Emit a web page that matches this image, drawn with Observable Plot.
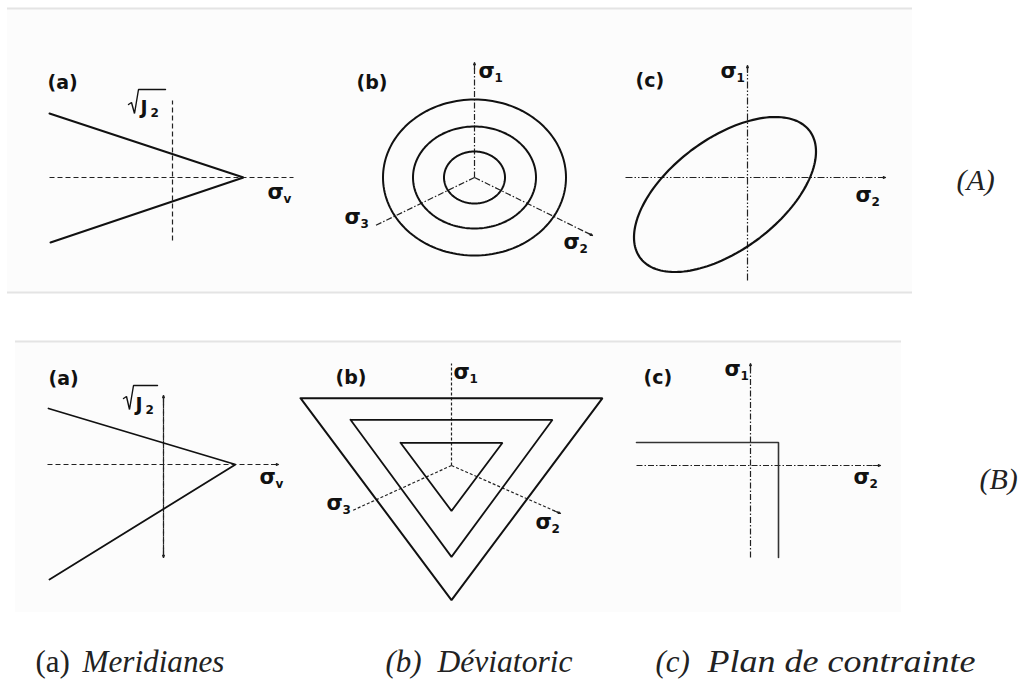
<!DOCTYPE html>
<html>
<head>
<meta charset="utf-8">
<script src="https://cdn.jsdelivr.net/npm/d3@7"></script>
<script src="https://cdn.jsdelivr.net/npm/@observablehq/plot@0.6"></script>
<style>
  body { margin: 0; background: #fff; }
  svg { display: block; }
</style>
</head>
<body>
<div id="chart"></div>
<script>
// Yield criteria sketched in three views: (a) meridian plane, (b) deviatoric plane,
// (c) plane-stress plane. Row A: smooth criterion, row B: Tresca/Rankine-like criterion.
// Every panel is described in its own local frame (u to the right, v upward,
// origin at the intersection of its axes).

// ---- data -----------------------------------------------------------------
// Meridian traces (u, v), traced from the left end to the apex and back out
const meridianA = [[-123, 64], [71, 0], [-122, -65]];
const meridianB = [[-115, 56], [72, 0], [-114, -115]];

// Deviatoric sections of the smooth criterion: semi-axes of the three traces
const circleRx = [30.5, 61.5, 91.5];
const circleRy = [26, 51, 78];

// Deviatoric sections of the faceted criterion: half top-edge width and height of top edge
const triHalfWidth = [51, 101, 151];
const triTop = [22.7, 45.7, 67.3];

// Plane-stress trace of the smooth criterion (centre, semi-extents, coupling term)
const ellipse = {cu: -22.5, cv: -17, ru: 91, rv: 77.5, cuv: 3900};

// Plane-stress trace of the faceted criterion
const planeB = [[-114, 23], [28, 23], [28, -92]];

// Axes of each panel: panel, start (u1, v1), end (u2, v2), dash style, arrowhead
const axes = [
  {p: "Aa", u1: -123, v1: 0, u2: 121, v2: 0, dash: "dash", arrow: false},
  {p: "Aa", u1: 0, v1: -63, u2: 0, v2: 77, dash: "dash", arrow: false},
  {p: "Ab", u1: 0, v1: 0, u2: 0, v2: 115, dash: "dashdot", arrow: true},
  {p: "Ab", u1: 0, v1: 0, u2: -99, v2: -48, dash: "dashdot", arrow: false},
  {p: "Ab", u1: 0, v1: 0, u2: 118, v2: -58, dash: "dashdot", arrow: true},
  {p: "Ac", u1: -122, v1: 0, u2: 138, v2: 0, dash: "dashdotdot", arrow: true},
  {p: "Ac", u1: 0, v1: -103, u2: 0, v2: 112, dash: "dashdotdot", arrow: true},
  {p: "Ba", u1: -116, v1: 0, u2: 115, v2: 0, dash: "dash", arrow: true},
  {p: "Ba", u1: 0, v1: -93, u2: 0, v2: 69, dash: "dash", arrow: true},
  {p: "Ba", u1: 0, v1: 69, u2: 0, v2: -93, dash: "dash", arrow: true},
  {p: "Bb", u1: 0, v1: 0, u2: 0, v2: 102, dash: "dot", arrow: false},
  {p: "Bb", u1: 0, v1: 0, u2: -99, v2: -45, dash: "dot", arrow: false},
  {p: "Bb", u1: 0, v1: 0, u2: 109, v2: -48, dash: "dot", arrow: true},
  {p: "Bc", u1: -114, v1: 0, u2: 130, v2: 0, dash: "dashdot", arrow: true},
  {p: "Bc", u1: 0, v1: -92, u2: 0, v2: 102, dash: "dashdot", arrow: true}
];

// Stress-axis labels: panel, subscript, position of the sigma
const sigmaLabels = [
  {p: "Aa", sub: "v", u: 95, v: -21},
  {p: "Ab", sub: "1", u: 4, v: 100},
  {p: "Ab", sub: "3", u: -130, v: -46},
  {p: "Ab", sub: "2", u: 89, v: -71},
  {p: "Ac", sub: "1", u: -27, v: 100},
  {p: "Ac", sub: "2", u: 108, v: -24},
  {p: "Ba", sub: "v", u: 96, v: -19},
  {p: "Bb", sub: "1", u: 2, v: 87},
  {p: "Bb", sub: "3", u: -125, v: -44},
  {p: "Bb", sub: "2", u: 84, v: -63},
  {p: "Bc", sub: "1", u: -26, v: 90},
  {p: "Bc", sub: "2", u: 103, v: -18}
];

// sqrt(J2) labels: radical stroke, "J" and subscript positions
const rootLabels = [
  {p: "Aa", radical: [[-44, 73], [-41, 75], [-38, 64], [-34, 88], [-7, 88]], ju: -32, jv: 64},
  {p: "Ba", radical: [[-40, 66], [-37, 68], [-34, 55], [-30, 79], [-6, 79]], ju: -28, jv: 54}
];

// Panel letters
const panelLetters = [
  {p: "Aa", text: "(a)", u: -125, v: 89},
  {p: "Ab", text: "(b)", u: -118, v: 89},
  {p: "Ac", text: "(c)", u: -112, v: 91},
  {p: "Ba", text: "(a)", u: -115, v: 80},
  {p: "Bb", text: "(b)", u: -116, v: 82},
  {p: "Bc", text: "(c)", u: -107, v: 82}
];

const rowTags = ["(A)", "(B)"];
const captionKeys = ["(a)", "(b)", "(c)"];
const captionNames = ["Meridianes", "Déviatoric", "Plan de contrainte"];

// ---- layout ----------------------------------------------------------------
const W = 1019, H = 682;
const origins = {Aa: [172, 177], Ab: [474, 177], Ac: [747, 177], Ba: [163, 464], Bb: [451, 465], Bc: [750, 465]};
const X = (p, u) => origins[p][0] + u;
const Y = (p, v) => origins[p][1] - v;
const rowTagPos = [[956, 189], [979, 488]];
const captionPos = [[35, 82], [385, 437], [655, 707]];
const captionWidths = [142, 135, 268];
const captionBaseline = 671;
const bands = [{x1: 7, x2: 912, y1: 8, y2: 292, top: true, bottom: true}, {x1: 15, x2: 901, y1: 341, y2: 612, top: true, bottom: false}];
const dashes = {dash: "5,3", dot: "3,2", dashdot: "6,2,1.5,2", dashdotdot: "7,2,1.5,2,1.5,2"};

// ---- build drawable tables --------------------------------------------------
const solid = [];
function addPath(id, p, pts, width, color) {
  pts.forEach(([u, v]) => solid.push({id, x: X(p, u), y: Y(p, v), width, color}));
}
addPath("meridianA", "Aa", meridianA, 2, "#111");
addPath("meridianB", "Ba", meridianB, 1.8, "#111");
const N = 160;
circleRx.forEach((rx, k) => {
  const pts = d3.range(N + 1).map((i) => {
    const t = (2 * Math.PI * i) / N;
    return [rx * Math.cos(t), circleRy[k] * Math.sin(t)];
  });
  addPath("circle" + k, "Ab", pts, 2, "#111");
});
{
  const {cu, cv, ru, rv, cuv} = ellipse;
  const a = cuv / ru, b = Math.sqrt(rv * rv - a * a);
  const pts = d3.range(N + 1).map((i) => {
    const t = (2 * Math.PI * i) / N;
    return [cu + ru * Math.cos(t), cv + a * Math.cos(t) + b * Math.sin(t)];
  });
  addPath("ellipse", "Ac", pts, 2.2, "#111");
}
triHalfWidth.forEach((hw, k) => {
  const top = triTop[k];
  addPath("tri" + k, "Bb", [[-hw, top], [hw, top], [0, -2 * top], [-hw, top]], k === 2 ? 2 : 1.8, "#111");
});
addPath("planeB", "Bc", planeB, 1.6, "#333");
rootLabels.forEach((r, k) => addPath("root" + k, r.p, r.radical, 1.4, "#111"));

const axisRows = axes.map((a) => ({
  x1: X(a.p, a.u1), y1: Y(a.p, a.v1), x2: X(a.p, a.u2), y2: Y(a.p, a.v2), dash: a.dash
}));
const arrowRows = axes.filter((a) => a.arrow).map((a) => {
  const du = a.u2 - a.u1, dv = a.v2 - a.v1, L = Math.hypot(du, dv);
  return {x1: X(a.p, a.u2 - (7 * du) / L), y1: Y(a.p, a.v2 - (7 * dv) / L), x2: X(a.p, a.u2), y2: Y(a.p, a.v2)};
});

const sigmaRows = sigmaLabels.map((s) => ({x: X(s.p, s.u), y: Y(s.p, s.v), sub: s.sub}));
const letterRows = panelLetters.map((l) => ({x: X(l.p, l.u), y: Y(l.p, l.v), text: l.text}));
const jRows = rootLabels.map((r) => ({x: X(r.p, r.ju), y: Y(r.p, r.jv)}));
const tagRows = rowTags.map((t, i) => ({x: rowTagPos[i][0], y: rowTagPos[i][1], text: t}));
const keyRows = captionKeys.map((t, i) => ({x: captionPos[i][0], y: captionBaseline, text: t, italic: i > 0}));
const nameRows = captionNames.map((t, i) => ({x: captionPos[i][1], y: captionBaseline, text: t}));

const bandLines = [];
bands.forEach((b) => {
  if (b.top) bandLines.push({x1: b.x1, x2: b.x2, y: b.y1});
  if (b.bottom) bandLines.push({x1: b.x1, x2: b.x2, y: b.y2});
});

const sans = "DejaVu Sans, Liberation Sans, sans-serif";
const serif = "Liberation Serif, DejaVu Serif, serif";
const axisMarks = Object.keys(dashes).map((k) =>
  Plot.link(axisRows.filter((d) => d.dash === k), {
    x1: "x1", y1: "y1", x2: "x2", y2: "y2", stroke: "#222", strokeWidth: 1.2, strokeDasharray: dashes[k]
  })
);

const chart = Plot.plot({
  width: W,
  height: H,
  margin: 0,
  x: {type: "linear", domain: [0, W], range: [0, W], axis: null},
  y: {type: "linear", domain: [0, H], range: [0, H], axis: null},
  style: {background: "#fff"},
  marks: [
    Plot.rect(bands, {x1: "x1", x2: "x2", y1: "y1", y2: "y2", fill: "#fcfcfc"}),
    Plot.ruleY(bandLines, {x1: "x1", x2: "x2", y: "y", stroke: "#e4e4e4", strokeWidth: 2}),
    ...axisMarks,
    Plot.arrow(arrowRows, {x1: "x1", y1: "y1", x2: "x2", y2: "y2", stroke: "#222", strokeWidth: 1.2, headLength: 6, headAngle: 45}),
    Plot.line(solid, {x: "x", y: "y", z: "id", stroke: "color", strokeWidth: "width", curve: "linear", strokeLinejoin: "miter"}),
    Plot.text(sigmaRows, {x: "x", y: "y", text: () => "σ", textAnchor: "start", lineAnchor: "bottom", fontFamily: sans, fontWeight: "bold", fontSize: 21, fill: "#111"}),
    Plot.text(sigmaRows, {x: "x", y: "y", text: "sub", textAnchor: "start", lineAnchor: "bottom", dx: 16, dy: 4, fontFamily: sans, fontWeight: "bold", fontSize: 12, fill: "#111"}),
    Plot.text(jRows, {x: "x", y: "y", text: () => "J", textAnchor: "start", lineAnchor: "bottom", fontFamily: sans, fontWeight: "bold", fontSize: 19, fill: "#111"}),
    Plot.text(jRows, {x: "x", y: "y", text: () => "2", textAnchor: "start", lineAnchor: "bottom", dx: 10, dy: 3, fontFamily: sans, fontWeight: "bold", fontSize: 12, fill: "#111"}),
    Plot.text(letterRows, {x: "x", y: "y", text: "text", textAnchor: "start", lineAnchor: "bottom", fontFamily: sans, fontWeight: "bold", fontSize: 19, fill: "#111"}),
    Plot.text(tagRows, {x: "x", y: "y", text: "text", textAnchor: "start", lineAnchor: "bottom", fontFamily: serif, fontStyle: "italic", fontSize: 30, fill: "#222"}),
    Plot.text(keyRows.filter((d) => !d.italic), {x: "x", y: "y", text: "text", textAnchor: "start", lineAnchor: "bottom", fontFamily: serif, fontSize: 31, fill: "#222"}),
    Plot.text(keyRows.filter((d) => d.italic), {x: "x", y: "y", text: "text", textAnchor: "start", lineAnchor: "bottom", fontFamily: serif, fontStyle: "italic", fontSize: 31, fill: "#222"}),
    Plot.text(nameRows, {x: "x", y: "y", text: "text", textAnchor: "start", lineAnchor: "bottom", fontFamily: serif, fontStyle: "italic", fontSize: 31, fill: "#222"})
  ]
});

// Caption names are set to their full printed widths
chart.querySelectorAll("text").forEach((t) => {
  const i = captionNames.indexOf(t.textContent);
  if (i >= 0) {
    t.setAttribute("textLength", captionWidths[i]);
    t.setAttribute("lengthAdjust", "spacingAndGlyphs");
  }
});
document.getElementById("chart").append(chart);
</script>
</body>
</html>
